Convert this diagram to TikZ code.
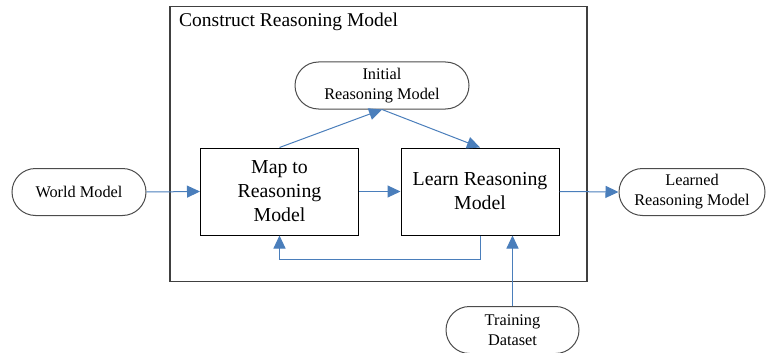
\documentclass[tikz,border=0pt]{standalone}
\usepackage{fontspec}
\setmainfont{Liberation Serif}
\usetikzlibrary{arrows.meta,shapes.misc}
\definecolor{arrowblue}{RGB}{74,126,187}
\begin{document}
\begin{tikzpicture}[x=1pt,y=-1pt,
  term/.style={draw=black!70, line width=1pt, rounded rectangle, minimum height=47pt, align=center, font=\fontsize{16.3}{20}\selectfont, inner sep=0pt},
  procbox/.style={draw=black, line width=1pt, minimum width=158pt, minimum height=87pt, align=center, font=\fontsize{19.8}{24}\selectfont, inner sep=0pt},
  flow/.style={draw=arrowblue, line width=1pt, -{Triangle[length=13pt,width=12pt]}},
]
\useasboundingbox (0,0) rectangle (766,353);
\node[draw=black!75, line width=1.2pt, minimum width=417pt, minimum height=275pt, inner sep=0pt] (frame) at (378.5,144) {};
\node[anchor=west, font=\fontsize{19.5}{22}\selectfont, inner sep=0pt] (title) at (179,22) {Construct Reasoning Model};
\node[term, minimum width=174pt] (initial) at (382,85.5) {Initial\\Reasoning Model};
\node[procbox] (map) at (279.5,191.5) {Map to\\Reasoning\\Model};
\node[procbox] (learn) at (480,191.5) {Learn Reasoning\\Model};
\node[term, minimum width=134pt] (world) at (79,192) {World Model};
\node[term, minimum width=146pt] (learned) at (692,192) {Learned\\Reasoning Model};
\node[term, minimum width=133pt] (training) at (512.5,330) {Training\\Dataset};
\draw[flow] (world.east) -- (map.west);
\draw[flow] (map.east) -- (learn.west);
\draw[flow] (learn.east) -- (learned.west);
\draw[flow] (map.north) -- (initial.south);
\draw[flow] (initial.south) -- (learn.north);
\draw[flow] (learn.south) -- ++(0,24) -| (map.south);
\draw[flow] (training.north) -- (training.north |- learn.south);
\end{tikzpicture}
\end{document}
